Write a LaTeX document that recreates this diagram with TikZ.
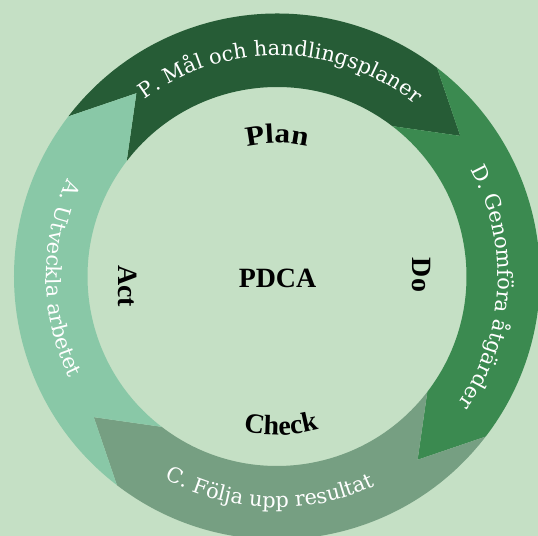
\documentclass[tikz,border=0pt]{standalone}
\usepackage{fontspec}
\setmainfont{Liberation Serif}
\newfontfamily\ringfamily{DejaVu Serif}
\newfontfamily\planfamily{Liberation Serif}[FakeStretch=1.12]
\usetikzlibrary{decorations.text}
\definecolor{bgc}{HTML}{C5E0C5}
\definecolor{pcol}{HTML}{265C36}
\definecolor{dcol}{HTML}{3B8A50}
\definecolor{ccol}{HTML}{769F82}
\definecolor{acol}{HTML}{89C8A7}
\newcommand\ringfont{\ringfamily\fontsize{21}{24}\selectfont\color{white}}
\newcommand\labfont{\rmfamily\bfseries\fontsize{28}{32}\selectfont}
\newcommand\planfont{\planfamily\bfseries\fontsize{28}{32}\selectfont}
\def\Ro{263}
\def\Ri{189.5}
\def\Rt{231}
\newcommand\pdcaseg[3]{%
  \fill[#3] (#1:\Ro) arc[start angle=#1, end angle=#2, radius=\Ro]
    -- ({#2-15}:\Rt) -- (#2:\Ri)
    arc[start angle=#2, end angle=#1, radius=\Ri]
    -- ({#1-15}:\Rt) -- cycle;}
\tikzset{
  lab/.style={font=\labfont, text=black, inner sep=0pt},
  ringtext/.style={decorate, decoration={text along path, text align=center, text={#1}}}
}
\begin{document}
\begin{tikzpicture}[x=1bp,y=1bp]
\useasboundingbox (0,0) rectangle (538,536);
\fill[bgc] (0,0) rectangle (538,536);
\clip (0,0) rectangle (538,536);
\begin{scope}[shift={(277,259.5)}]
  \pdcaseg{142.5}{52.5}{pcol}
  \pdcaseg{52.5}{-37.5}{dcol}
  \pdcaseg{-37.5}{-127.5}{ccol}
  \pdcaseg{232.5}{142.5}{acol}
  % ring labels
  \path[ringtext={|\ringfont|P. Mål och handlingsplaner}]
    (149:221) arc[start angle=149, end angle=29, radius=221];
  \path[ringtext={|\ringfont|D. Genomföra åtgärder}]
    (57:221) arc[start angle=57, end angle=-63, radius=221];
  \path[ringtext={|\ringfont|C. Följa upp resultat}]
    (208:231) arc[start angle=208, end angle=328, radius=231];
  \path[ringtext={|\ringfont|A. Utveckla arbetet}]
    (120.5:231) arc[start angle=120.5, end angle=240.5, radius=231];
  % inner arced labels
  \path[ringtext={|\planfont|Plan}]
    (130:133.5) arc[start angle=130, end angle=50, radius=133.5];
  \path[ringtext={|\labfont|Check}]
    (231.5:158.5) arc[start angle=231.5, end angle=311.5, radius=158.5];
\end{scope}
\node[lab] (pdca) at (277.5,258) {PDCA};
\node[lab, rotate=-90] (act) at (127.5,250) {Act};
\node[lab, rotate=-90] (do) at (421,261) {Do};
\end{tikzpicture}
\end{document}
